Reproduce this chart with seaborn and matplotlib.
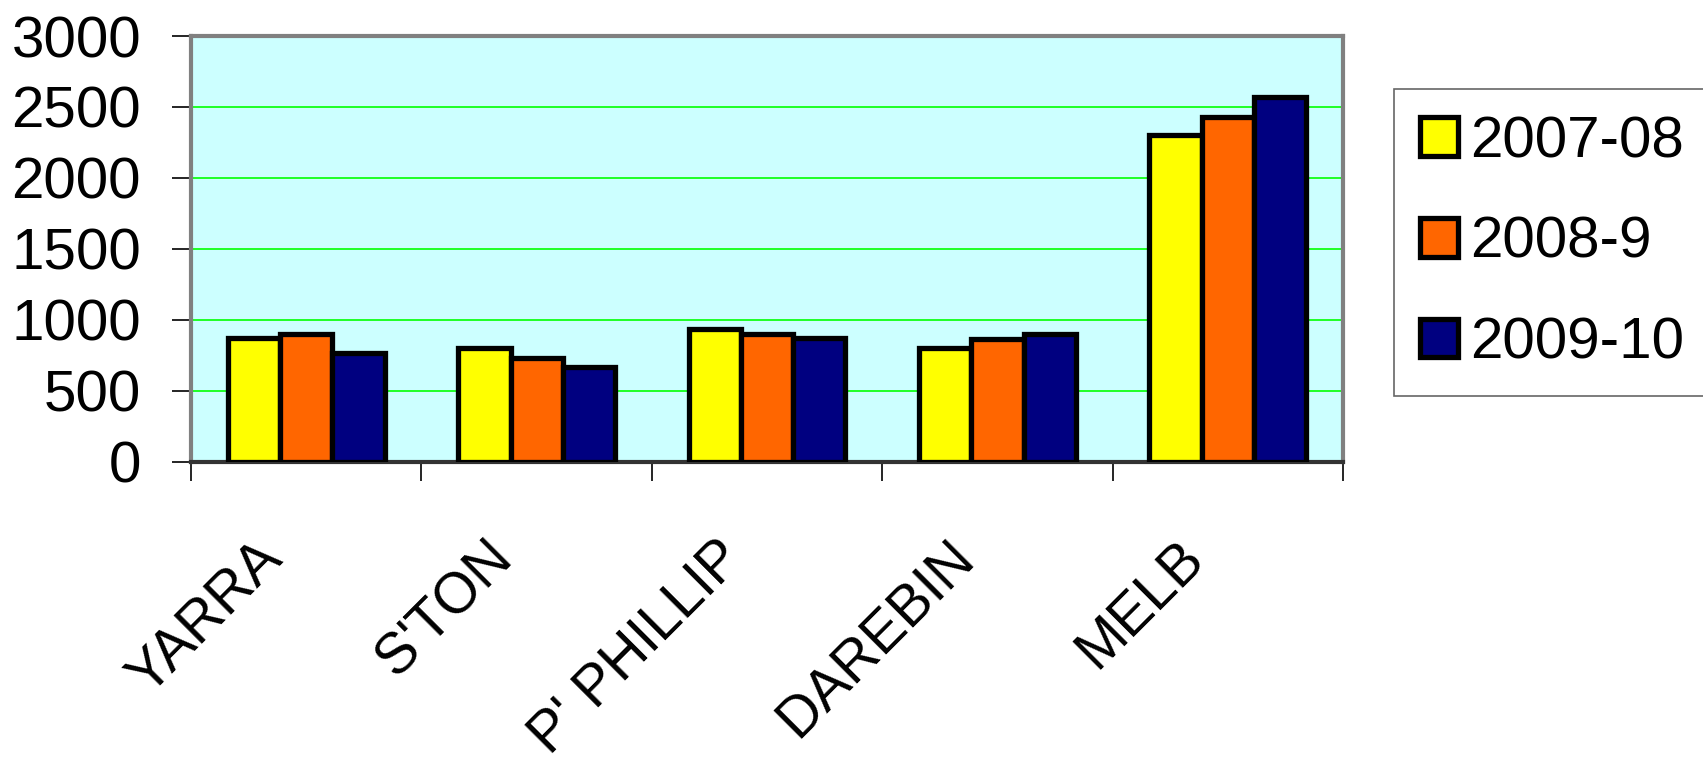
import matplotlib.pyplot as plt
import matplotlib.transforms as mtransforms
import pandas as pd
import seaborn as sns

# values
councils = ['YARRA', "S'TON", "P' PHILLIP", 'DAREBIN', 'MELB']
years = ['2007-08', '2008-9', '2009-10']
v_0708 = [870, 800, 935, 800, 2300]
v_0809 = [900, 735, 900, 865, 2430]
v_0910 = [770, 670, 870, 900, 2570]
colors = ['#ffff00', '#ff6600', '#000080']

df = pd.DataFrame({
    'council': councils * 3,
    'year': [y for y in years for _ in councils],
    'value': v_0708 + v_0809 + v_0910,
})

sns.set_theme(style='white')
plt.rcParams['font.family'] = ['Liberation Sans', 'DejaVu Sans']
plt.rcParams['text.color'] = 'black'

fig = plt.figure(figsize=(17.03, 7.66), dpi=100)
ax = fig.add_axes([0.1122, 0.3969, 0.6764, 0.5561])
sns.barplot(data=df, x='council', y='value', hue='year', palette=colors,
            width=0.68, edgecolor='black', linewidth=3.8, saturation=1, ax=ax, zorder=3)

ax.set_facecolor('#ccffff')
ax.set_xlim(-0.5, 4.5)
ax.set_ylim(0, 3000)
ax.set_yticks(range(0, 3001, 500))
ax.yaxis.grid(True, color='#00ff00', lw=1.2)
ax.set_axisbelow(True)
ax.set_xlabel('')
ax.set_ylabel('')

for s in ['left', 'top', 'right']:
    ax.spines[s].set_color('#808080')
    ax.spines[s].set_linewidth(3)
ax.spines['bottom'].set_color('#333333')
ax.spines['bottom'].set_linewidth(3)

ax.tick_params(axis='y', direction='out', length=14, width=1.2, color='black', pad=22,
               labelsize=42, labelcolor='black', left=True)
ax.set_xticks(range(len(councils)))
ax.set_xticks([i - 0.5 for i in range(len(councils) + 1)], minor=True)
ax.tick_params(axis='x', which='major', length=0, pad=63, labelsize=41, labelcolor='black')
ax.tick_params(axis='x', which='minor', direction='out', length=14, width=1.2, color='black', bottom=True)
ax.set_xticklabels(councils, rotation=45, ha='right', va='center', rotation_mode='anchor')
offset = mtransforms.ScaledTranslation(-0.32, 0, fig.dpi_scale_trans)
for lab in ax.get_xticklabels():
    lab.set_transform(lab.get_transform() + offset)

sns.move_legend(ax, 'center left', bbox_to_anchor=(0.8186, 0.683), bbox_transform=fig.transFigure,
                title=None, fontsize=42, frameon=True, fancybox=False, edgecolor='#404040',
                handlelength=0.65, handleheight=0.65, labelspacing=0.8, handletextpad=0.22,
                borderpad=0.44, borderaxespad=0)
leg = ax.get_legend()
leg.get_frame().set_linewidth(1.2)
for h in leg.legend_handles:
    h.set_linewidth(3.8)
    h.set_edgecolor('black')

fig.savefig('out.png', dpi=100)
